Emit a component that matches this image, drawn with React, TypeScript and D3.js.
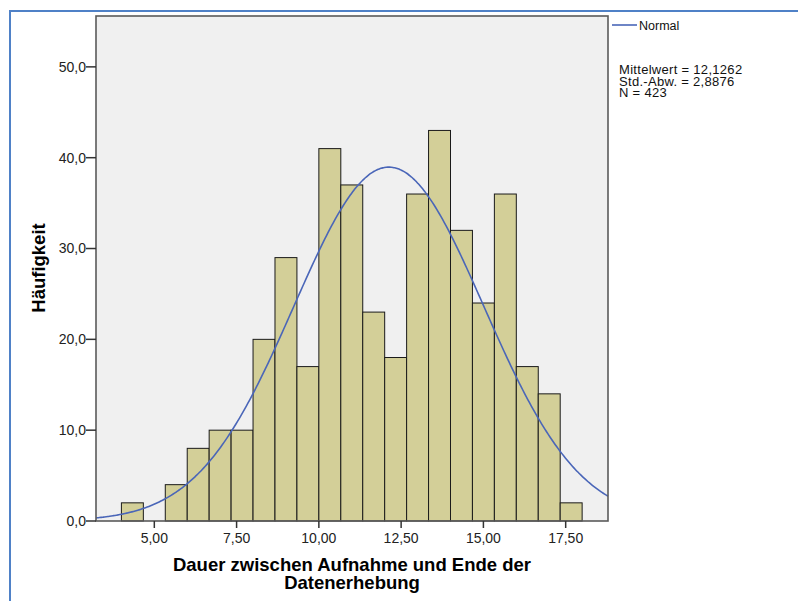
import React from "react";
import * as d3 from "d3";

const binEdgesStart = 4;
const binWidth = 2 / 3;
const counts = [2, 0, 4, 8, 10, 10, 20, 29, 17, 41, 37, 23, 18, 36, 43, 32, 24, 36, 17, 14, 2];
const xTicks = [5, 7.5, 10, 12.5, 15, 17.5];
const yTicks = [0, 10, 20, 30, 40, 50];
const mean = 12.1262;
const sd = 2.8876;
const n = 423;
const statsLines = ["Mittelwert = 12,1262", "Std.-Abw. = 2,8876", "N = 423"];

const W = 798;
const H = 601;
const plot = { left: 96, right: 608, top: 16, bottom: 521 };
const font = "'Liberation Sans', Arial, sans-serif";

export default function App() {
  const x = d3.scaleLinear().domain([3.228, 18.786]).range([plot.left, plot.right]);
  const y = d3.scaleLinear().domain([0, 55.6]).range([plot.bottom, plot.top]);
  const bins = counts.map((c, i) => ({
    x0: binEdgesStart + i * binWidth,
    x1: binEdgesStart + (i + 1) * binWidth,
    c,
  }));
  const dens = (v: number) =>
    (n * binWidth) / (sd * Math.sqrt(2 * Math.PI)) * Math.exp(-0.5 * ((v - mean) / sd) ** 2);
  const xs = d3.range(0, 301).map((i) => 3.228 + (i / 300) * (18.786 - 3.228));
  const line = d3
    .line<number>()
    .x((v) => x(v))
    .y((v) => y(dens(v)))
    .curve(d3.curveMonotoneX);
  const fmtX = (v: number) => v.toFixed(2).replace(".", ",");
  const fmtY = (v: number) => v.toFixed(1).replace(".", ",");
  return (
    <svg
      width={W}
      height={H}
      style={{ position: "absolute", left: 0, top: 0, background: "#fff" }}
    >
      <rect x={10} y={11} width={W} height={H} fill="#fff" stroke="#4f81c7" strokeWidth={2} />
      <rect
        x={plot.left}
        y={plot.top}
        width={plot.right - plot.left}
        height={plot.bottom - plot.top}
        fill="#f0f0f0"
      />
      {bins
        .filter((b) => b.c > 0)
        .map((b, i) => (
          <rect
            key={i}
            x={x(b.x0)}
            y={y(b.c)}
            width={x(b.x1) - x(b.x0)}
            height={y(0) - y(b.c)}
            fill="#d3cf98"
            stroke="#1a1a1a"
            strokeWidth={1}
          />
        ))}
      <path d={line(xs) || ""} fill="none" stroke="#4a66b8" strokeWidth={1.6} />
      <rect
        x={plot.left}
        y={plot.top}
        width={plot.right - plot.left}
        height={plot.bottom - plot.top}
        fill="none"
        stroke="#5a5a5a"
        strokeWidth={1.6}
      />
      {yTicks.map((t) => (
        <g key={t}>
          <line x1={plot.left - 10} x2={plot.left} y1={y(t)} y2={y(t)} stroke="#333" strokeWidth={1.5} />
          <text
            x={plot.left - 10}
            y={y(t)}
            dy="0.35em"
            textAnchor="end"
            fontFamily={font}
            fontSize={14}
            fill="#222"
          >
            {fmtY(t)}
          </text>
        </g>
      ))}
      {xTicks.map((t) => (
        <g key={t}>
          <line x1={x(t)} x2={x(t)} y1={plot.bottom} y2={plot.bottom + 7} stroke="#333" strokeWidth={1.5} />
          <text
            x={x(t)}
            y={plot.bottom + 22}
            textAnchor="middle"
            fontFamily={font}
            fontSize={14}
            fill="#222"
          >
            {fmtX(t)}
          </text>
        </g>
      ))}
      <text
        transform={`translate(45,268) rotate(-90)`}
        textAnchor="middle"
        fontFamily={font}
        fontWeight="bold"
        fontSize={18.5}
        fill="#000"
      >
        Häufigkeit
      </text>
      <text textAnchor="middle" fontFamily={font} fontWeight="bold" fontSize={18.5} fill="#000">
        <tspan x={352} y={571}>Dauer zwischen Aufnahme und Ende der</tspan>
        <tspan x={352} y={589}>Datenerhebung</tspan>
      </text>
      <line x1={612} x2={637} y1={25} y2={25} stroke="#4a66b8" strokeWidth={1.6} />
      <text x={639} y={30} fontFamily={font} fontSize={12.5} fill="#111">
        Normal
      </text>
      <text fontFamily={font} fontSize={13} letterSpacing={0.3} fill="#111">
        {statsLines.map((s, i) => (
          <tspan key={i} x={619} y={74 + i * 11.5}>
            {s}
          </tspan>
        ))}
      </text>
    </svg>
  );
}
